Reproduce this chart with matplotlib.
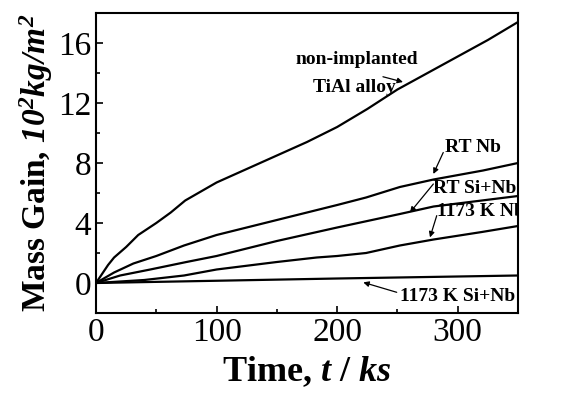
import matplotlib
matplotlib.use('Agg')
from matplotlib import pyplot as plt
from matplotlib.ticker import MultipleLocator

plt.rcParams['font.family'] = ['Liberation Serif', 'DejaVu Serif']
plt.rcParams['mathtext.fontset'] = 'custom'
plt.rcParams['mathtext.rm'] = 'Liberation Serif:italic:bold'
plt.rcParams['mathtext.it'] = 'Liberation Serif:italic:bold'
plt.rcParams['mathtext.bf'] = 'Liberation Serif:bold'

# time in ks, mass gain in 10^2 kg/m^2
t_tial = [0, 5, 10, 15, 25, 35, 50, 62, 74, 87, 100, 125, 150, 175, 200,
          225, 250, 275, 300, 325, 350]
m_tial = [0, 0.6, 1.2, 1.7, 2.4, 3.2, 4.0, 4.7, 5.5, 6.1, 6.7, 7.6, 8.5, 9.4, 10.4,
          11.6, 12.9, 14.0, 15.1, 16.2, 17.4]

t_rtnb = [0, 15, 31, 50, 73, 100, 125, 150, 175, 200, 224, 252, 280, 321, 350]
m_rtnb = [0, 0.7, 1.3, 1.8, 2.5, 3.2, 3.7, 4.2, 4.7, 5.2, 5.7, 6.4, 6.9, 7.5, 8.0]

t_rtsinb = [0, 20, 45, 75, 100, 150, 200, 252, 280, 320, 350]
m_rtsinb = [0, 0.5, 0.9, 1.4, 1.8, 2.8, 3.7, 4.6, 5.1, 5.5, 5.8]

t_knb = [0, 40, 73, 100, 150, 183, 200, 224, 252, 280, 320, 350]
m_knb = [0, 0.2, 0.5, 0.9, 1.4, 1.7, 1.8, 2.0, 2.5, 2.9, 3.4, 3.8]

t_ksinb = [0, 100, 200, 350]
m_ksinb = [0, 0.15, 0.3, 0.5]

fig = plt.figure(figsize=(5.76, 4.03), dpi=100)
ax = fig.add_axes([96 / 576, 1 - 313 / 403, 422 / 576, 300 / 403])

for t, m in [(t_tial, m_tial), (t_rtnb, m_rtnb), (t_rtsinb, m_rtsinb),
             (t_knb, m_knb), (t_ksinb, m_ksinb)]:
    ax.plot(t, m, color='black', lw=1.6)

ax.set_xlim(0, 350)
ax.set_ylim(-2, 18)
ax.xaxis.set_major_locator(MultipleLocator(100))
ax.xaxis.set_minor_locator(MultipleLocator(50))
ax.yaxis.set_major_locator(MultipleLocator(4))
ax.yaxis.set_minor_locator(MultipleLocator(2))
ax.tick_params(which='both', direction='in', labelsize=24, width=1.2)
ax.tick_params(which='major', length=5)
ax.tick_params(which='minor', length=3)
for s in ax.spines.values():
    s.set_linewidth(1.5)

ax.set_xlabel(r'Time, $t$ / $ks$', fontsize=26, fontweight='bold', labelpad=4)
ax.set_ylabel(r'Mass Gain, $10^2kg/m^2$', fontsize=24, fontweight='bold', labelpad=2)

arrow = dict(arrowstyle='-|>', color='black', lw=0.9,
             mutation_scale=8, shrinkA=0, shrinkB=0)
kw = dict(fontsize=14, fontweight='bold', ha='left', va='center')

ax.text(216, 14.9, 'non-implanted', ha='center', va='center',
        fontsize=14, fontweight='bold')
ax.text(214, 13.0, 'TiAl alloy', ha='center', va='center',
        fontsize=14, fontweight='bold')
ax.annotate('', xy=(254.6, 13.4), xytext=(238, 13.75), arrowprops=arrow)

ax.text(289.5, 9.05, 'RT Nb', **kw)
ax.annotate('', xy=(279.8, 7.27), xytext=(288, 8.7), arrowprops=arrow)

ax.text(279.6, 6.27, 'RT Si+Nb', **kw)
ax.annotate('', xy=(260.4, 4.7), xytext=(279.8, 6.6), arrowprops=arrow)

ax.text(283, 4.8, '1173 K Nb', clip_on=True, **kw)
ax.annotate('', xy=(277, 3.04), xytext=(282.6, 4.49), arrowprops=arrow)

ax.text(252, -0.87, '1173 K Si+Nb', **kw)
ax.annotate('', xy=(221.7, 0.04), xytext=(249.4, -0.62), arrowprops=arrow)

fig.savefig('out.png', dpi=100)
